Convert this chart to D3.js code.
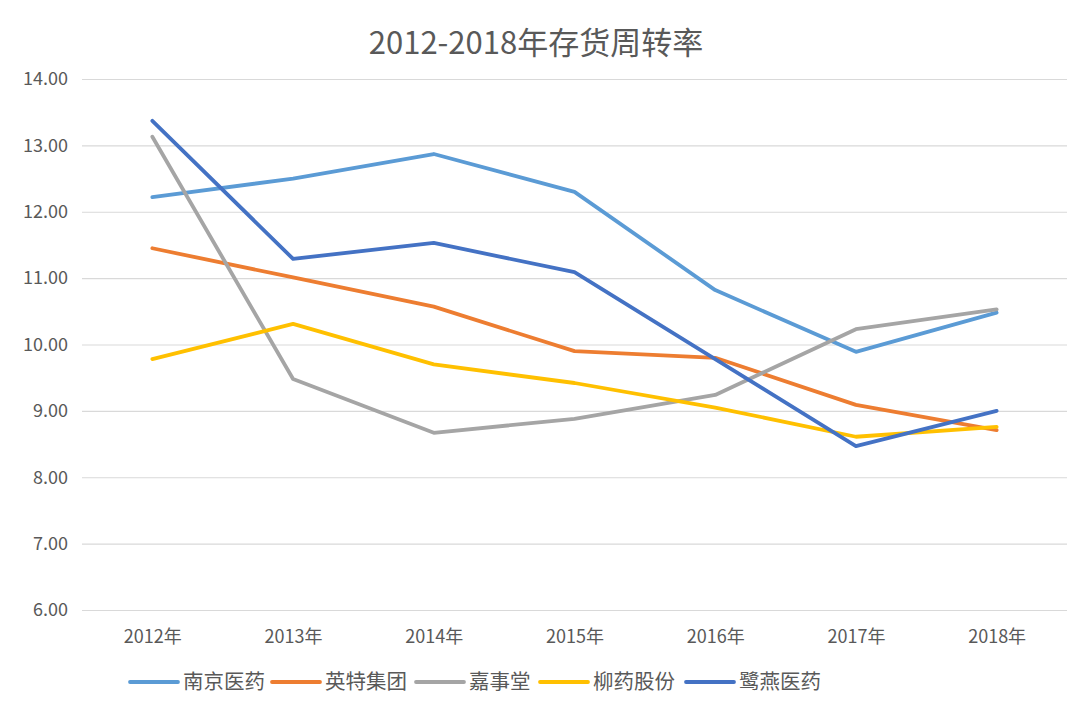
<!DOCTYPE html>
<html>
<head>
<meta charset="utf-8">
<script src="https://cdn.jsdelivr.net/npm/d3@7"></script>
<style>
  html, body { margin: 0; padding: 0; background: #fff; }
  svg { display: block; }
</style>
</head>
<body>
<svg id="chart" width="1080" height="723"></svg>
<script>
const categories = ["2012年", "2013年", "2014年", "2015年", "2016年", "2017年", "2018年"];
const yTicks = [6, 7, 8, 9, 10, 11, 12, 13, 14];
const seriesNames = ["南京医药", "英特集团", "嘉事堂", "柳药股份", "鹭燕医药"];
const nanjing = [12.22, 12.50, 12.87, 12.30, 10.82, 9.89, 10.48];
const yingte = [11.45, 11.01, 10.57, 9.90, 9.80, 9.09, 8.71];
const jiashitang = [13.13, 9.48, 8.67, 8.88, 9.24, 10.23, 10.53];
const liuyao = [9.78, 10.31, 9.70, 9.42, 9.05, 8.61, 8.76];
const luyan = [13.37, 11.29, 11.53, 11.09, 9.78, 8.47, 9.00];
const seriesValues = [nanjing, yingte, jiashitang, liuyao, luyan];
const colors = ["#5B9BD5", "#ED7D31", "#A5A5A5", "#FFC000", "#4472C4"];

const svg = d3.select("#chart");
const font = "'Noto Sans CJK SC', 'Noto Sans', sans-serif";
const textColor = "#595959";

const x = d3.scalePoint().domain(categories).range([82, 1067]).padding(0.5);
const y = d3.scaleLinear().domain([6, 14]).range([610, 79]);

// Title
svg.append("text")
  .attr("x", 536).attr("y", 54)
  .attr("text-anchor", "middle")
  .attr("font-family", font)
  .attr("font-size", 31)
  .attr("fill", textColor)
  .text("2012-2018年存货周转率");

// Gridlines
const yAxis = d3.axisLeft(y).tickValues(yTicks).tickSize(-(1067 - 82)).tickFormat(d3.format(".2f"));
const gy = svg.append("g").attr("transform", "translate(82,0)").call(yAxis);
gy.select(".domain").remove();
gy.selectAll(".tick line").attr("stroke", "#D9D9D9").attr("stroke-width", 1.2);
gy.selectAll(".tick text")
  .attr("x", -14)
  .attr("font-family", font)
  .attr("font-size", 18)
  .attr("fill", textColor);

// X axis labels
const xAxis = d3.axisBottom(x).tickSize(0);
const gx = svg.append("g").attr("transform", "translate(0,610)").call(xAxis);
gx.select(".domain").remove();
gx.selectAll(".tick text")
  .attr("dy", 0)
  .attr("y", 33)
  .attr("font-family", font)
  .attr("font-size", 18)
  .attr("fill", textColor);

// Lines
const line = d3.line().x((d, i) => x(categories[i])).y(d => y(d));
seriesValues.forEach((vals, si) => {
  svg.append("path")
    .datum(vals)
    .attr("fill", "none")
    .attr("stroke", colors[si])
    .attr("stroke-width", 3.8)
    .attr("stroke-linejoin", "round")
    .attr("stroke-linecap", "round")
    .attr("d", line);
});

// Legend
const legendX = [130, 272, 416, 540, 686];
const legendY = 682;
const lg = svg.append("g");
seriesNames.forEach((name, i) => {
  const g = lg.append("g").attr("transform", `translate(${legendX[i]},${legendY})`);
  g.append("line").attr("x1", 0).attr("x2", 48).attr("y1", 0).attr("y2", 0)
    .attr("stroke", colors[i]).attr("stroke-width", 3.8).attr("stroke-linecap", "round");
  g.append("text").attr("x", 53).attr("y", 0).attr("dy", "0.35em")
    .attr("font-family", font).attr("font-size", 20.5).attr("fill", textColor)
    .text(name);
});
</script>
</body>
</html>
